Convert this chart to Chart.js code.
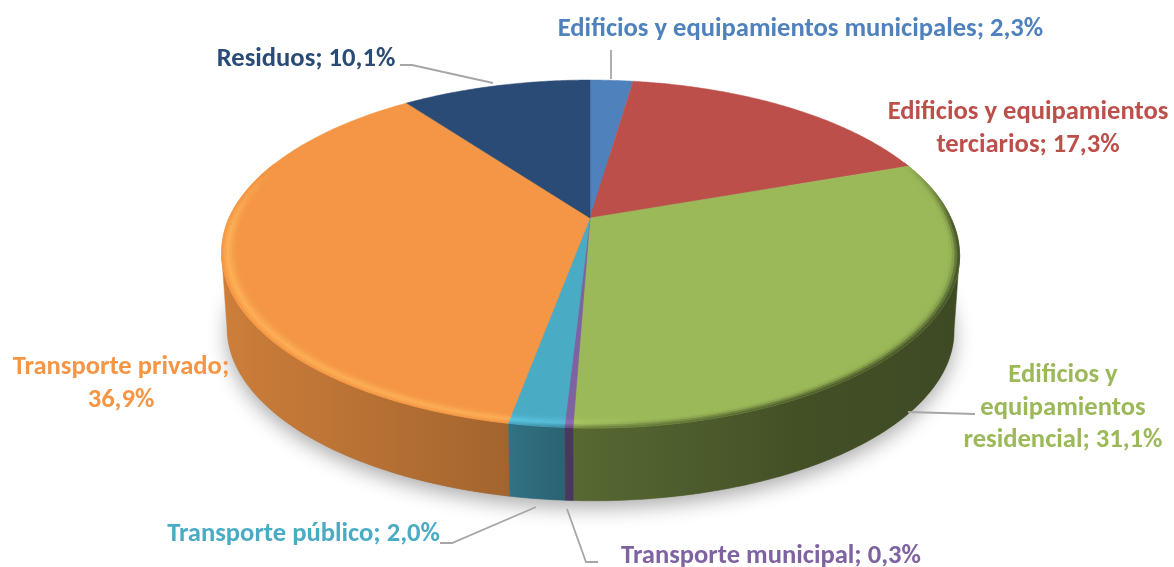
<!DOCTYPE html>
<html><head><meta charset="utf-8">
<style>html,body{margin:0;padding:0;background:#fff}canvas{display:block}</style>
<script src="https://cdn.jsdelivr.net/npm/chart.js@4"></script>
</head><body><canvas id="c" width="1174" height="567"></canvas>
<script>
const categories=["Edificios y equipamientos municipales","Edificios y equipamientos terciarios","Edificios y equipamientos residencial","Transporte municipal","Transporte público","Transporte privado","Residuos"];
const values=[2.3,17.3,31.1,0.3,2.0,36.9,10.1];
const sliceColors=["#4f81bd","#bd4f4b","#9bb959","#7f63a1","#4aabc5","#f49645","#2a4b75"];
const labelLines=[
 ["Edificios y equipamientos municipales; 2,3%"],
 ["Edificios y equipamientos","terciarios; 17,3%"],
 ["Edificios y","equipamientos","residencial; 31,1%"],
 ["Transporte municipal; 0,3%"],
 ["Transporte público; 2,0%"],
 ["Transporte privado;","36,9%"],
 ["Residuos; 10,1%"]];
const labelAnchors=[[800.5,36],[1028,119],[1063,382],[771,563],[303.5,541],[121,374],[306,66]];
const leaders=[
 [[611,50],[611,79]],
 null,
 [[908,412],[975,414]],
 [[567,509],[586,562],[598,562]],
 [[440,543],[452,543],[536,507]],
 null,
 [[400,65],[412,65],[493,83]]];
const LINE_H=32.5, FONT='bold 26.6px Carlito, Lato, sans-serif';
const CX=590,CY=218,A=361,B=166.5,K=0.2069,DEPTH=76,SB=0.985;
const rgb=h=>[1,3,5].map(i=>parseInt(h.substr(i,2),16));
const css=c=>`rgb(${c.map(v=>Math.max(0,Math.min(255,Math.round(v)))).join(',')})`;
function P(a,r,dy,s){const u=r*Math.cos(a),v=r*Math.sin(a),d=1-K*v;return [CX+A*s*u/d+Math.max(0,v)*3,CY+dy+B*s*v/d];}
function interp(tbl,x){if(x<=tbl[0][0])return tbl[0][1];for(let i=1;i<tbl.length;i++){if(x<=tbl[i][0]){const t=(x-tbl[i-1][0])/(tbl[i][0]-tbl[i-1][0]);return tbl[i-1][1]+t*(tbl[i][1]-tbl[i-1][1]);}}return tbl[tbl.length-1][1];}
const wallShade=[[221,.84],[505,.67],[570,.57],[800,.43],[958,.40]];
const STEP=Math.PI/360;
function quad(ctx,p,col){ctx.fillStyle=col;ctx.strokeStyle=col;ctx.lineWidth=.6;ctx.beginPath();ctx.moveTo(...p[0]);for(let i=1;i<p.length;i++)ctx.lineTo(...p[i]);ctx.closePath();ctx.fill();ctx.stroke();}
const pie3d={id:'pie3d',beforeDatasetsDraw(chart){
 const ctx=chart.ctx,arcs=chart.getDatasetMeta(0).data;
 ctx.save();
 // soft shadow under the base
 ctx.save();ctx.shadowColor='rgba(0,0,0,.33)';ctx.shadowBlur=20;ctx.shadowOffsetY=7;ctx.fillStyle='#888';ctx.beginPath();
 for(let a=0;a<Math.PI*2;a+=.02){const p=P(a,1,DEPTH,SB);ctx.lineTo(p[0],p[1]);}ctx.closePath();ctx.fill();ctx.restore();
 // walls: one horizontally graded band per slice, front-facing part only
 arcs.forEach((arc,i)=>{const base=rgb(sliceColors[i]);
  const top=[],bot=[];
  for(let a=arc.startAngle;;a+=STEP){const m=Math.min(a,arc.endAngle);
   if(Math.sin(m)>=K){top.push(P(m,1,0,1));bot.push(P(m,1,DEPTH,SB));}
   if(a>=arc.endAngle)break;}
  if(top.length<2)return;
  const g=ctx.createLinearGradient(221,0,958,0);
  wallShade.forEach(s=>g.addColorStop((s[0]-221)/737,css(base.map(v=>v*s[1]))));
  ctx.fillStyle=g;ctx.strokeStyle=g;ctx.lineWidth=.5;ctx.beginPath();
  top.forEach((p,j)=>j?ctx.lineTo(...p):ctx.moveTo(...p));
  bot.reverse().forEach(p=>ctx.lineTo(...p));
  ctx.closePath();ctx.fill();ctx.stroke();
 });
 // top faces
 arcs.forEach((arc,i)=>{ctx.fillStyle=sliceColors[i];ctx.strokeStyle=sliceColors[i];ctx.lineWidth=.5;ctx.beginPath();ctx.moveTo(CX,CY);
  for(let a=arc.startAngle;a<arc.endAngle;a+=STEP){ctx.lineTo(...P(a,1,0,1));}
  ctx.lineTo(...P(arc.endAngle,1,0,1));ctx.closePath();ctx.fill();ctx.stroke();});
 // bevel rim
 const rings=[[1,.993],[.993,.986],[.986,.979],[.979,.972],[.972,.965],[.965,.958]];
 const lite=[.15,.55,.8,.55,.28,.1], dark=[.75,.5,.2,.05,0,0];
 arcs.forEach((arc,i)=>{const base=rgb(sliceColors[i]);
  for(let a=arc.startAngle;a<arc.endAngle-1e-6;a+=STEP){const b=Math.min(a+STEP,arc.endAngle);
   const m=(a+b)/2,vis=Math.max(0,Math.min(1,(Math.sin(m)+.35)/.4));if(vis<=0)continue;
   const x=P(m,1,0,1)[0];
   const lt=interp([[221,1],[560,.9],[640,.15],[958,0]],x),dk=interp([[500,0],[600,.55],[800,.9],[958,1]],x);
   rings.forEach((r,j)=>{
    let c=base.map(v=>v+(Math.min(255,v*1.12+14)-v)*lite[j]*lt*vis);
    c=c.map(v=>v*(1-dark[j]*dk*vis*.7));
    quad(ctx,[P(a,r[0],0,1),P(b,r[0],0,1),P(b,r[1],0,1),P(a,r[1],0,1)],css(c));});
  }
 });
 // leaders
 ctx.strokeStyle='#a6a6a6';ctx.lineWidth=1.8;
 leaders.forEach(l=>{if(!l)return;ctx.beginPath();l.forEach((p,i)=>i?ctx.lineTo(...p):ctx.moveTo(...p));ctx.stroke();});
 // labels
 ctx.font=FONT;ctx.textAlign='center';ctx.textBaseline='alphabetic';
 labelLines.forEach((ls,i)=>{ctx.fillStyle=sliceColors[i];ls.forEach((t,j)=>ctx.fillText(t,labelAnchors[i][0],labelAnchors[i][1]+j*LINE_H));});
 ctx.restore();
 return false;
}};
new Chart(document.getElementById('c'),{type:'pie',
 data:{labels:categories,datasets:[{data:values,backgroundColor:sliceColors,borderWidth:0}]},
 options:{responsive:false,animation:false,rotation:0,layout:{padding:0},plugins:{legend:{display:false},tooltip:{enabled:false}}},
 plugins:[pie3d]});
</script></body></html>
